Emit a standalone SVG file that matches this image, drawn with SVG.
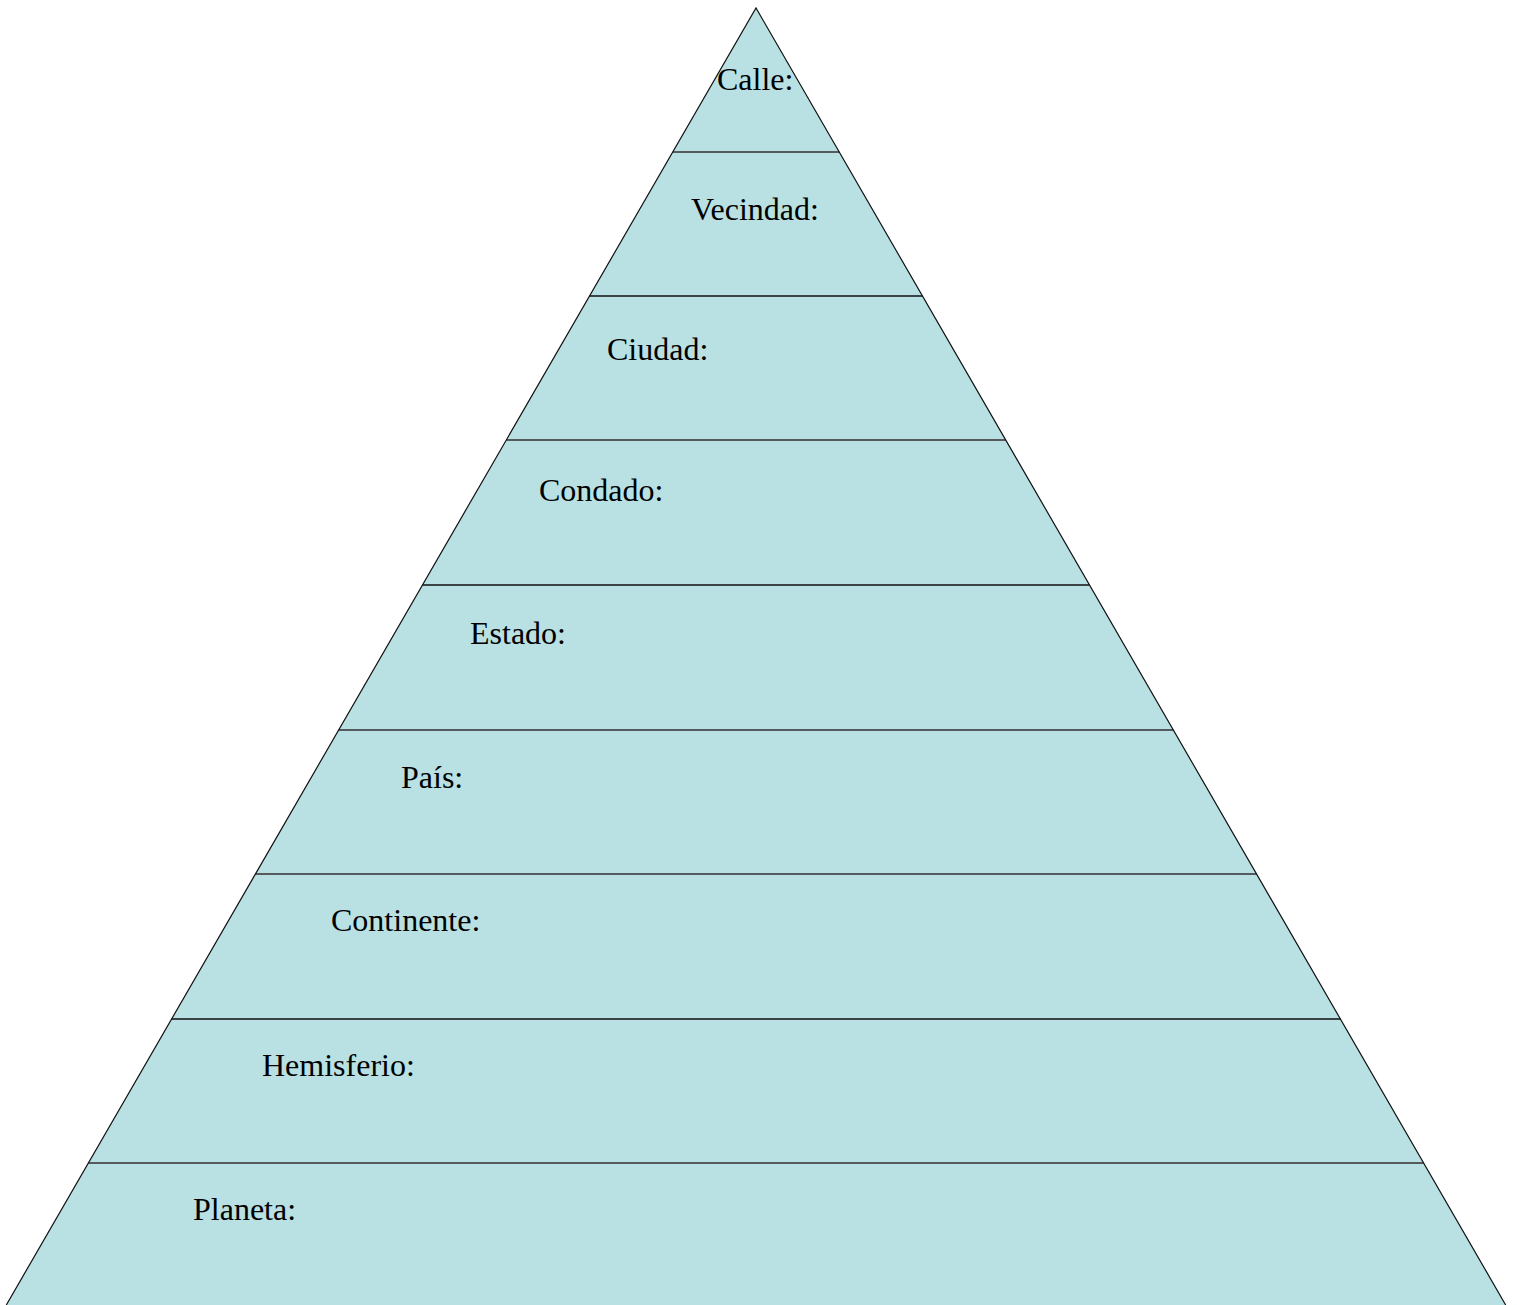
<svg xmlns="http://www.w3.org/2000/svg" width="1517" height="1305" viewBox="0 0 1517 1305">
<style>
.band{fill:#b9e0e3;stroke:none}
.lbl{font-family:"Liberation Serif","Times New Roman",serif;font-size:32px;fill:#000}
.sep{stroke:#555b5c;stroke-width:2}
.sepk{stroke:#111;stroke-width:1.6}
.edge{fill:none;stroke:#111;stroke-width:1.2}
</style>
<rect width="1517" height="1305" fill="#fff"/>
<g id="calle"><polygon class="band" points="756,8 839.2,152 672.8,152"/><text class="lbl" x="717" y="90">Calle:</text></g>
<g id="vecindad"><polygon class="band" points="672.8,152 839.2,152 922.5,296 589.5,296"/><text class="lbl" x="691" y="220">Vecindad:</text></g>
<g id="ciudad"><polygon class="band" points="589.5,296 922.5,296 1005.7,440 506.3,440"/><text class="lbl" x="607" y="360">Ciudad:</text></g>
<g id="condado"><polygon class="band" points="506.3,440 1005.7,440 1089.5,585 422.5,585"/><text class="lbl" x="539" y="501">Condado:</text></g>
<g id="estado"><polygon class="band" points="422.5,585 1089.5,585 1173.3,730 338.7,730"/><text class="lbl" x="470" y="644">Estado:</text></g>
<g id="pais"><polygon class="band" points="338.7,730 1173.3,730 1256.5,874 255.5,874"/><text class="lbl" x="401" y="788">País:</text></g>
<g id="continente"><polygon class="band" points="255.5,874 1256.5,874 1340.4,1019 171.6,1019"/><text class="lbl" x="331" y="931">Continente:</text></g>
<g id="hemisferio"><polygon class="band" points="171.6,1019 1340.4,1019 1423.6,1163 88.4,1163"/><text class="lbl" x="262" y="1076">Hemisferio:</text></g>
<g id="planeta"><polygon class="band" points="88.4,1163 1423.6,1163 1505.7,1305 6.3,1305"/><text class="lbl" x="193" y="1220">Planeta:</text></g>
<g id="connectors">
<line class="sep" x1="672.8" y1="152" x2="839.2" y2="152"/>
<line class="sepk" x1="589.5" y1="296" x2="922.5" y2="296"/>
<line class="sep" x1="506.3" y1="440" x2="1005.7" y2="440"/>
<line class="sepk" x1="422.5" y1="585" x2="1089.5" y2="585"/>
<line class="sep" x1="338.7" y1="730" x2="1173.3" y2="730"/>
<line class="sep" x1="255.5" y1="874" x2="1256.5" y2="874"/>
<line class="sepk" x1="171.6" y1="1019" x2="1340.4" y2="1019"/>
<line class="sep" x1="88.4" y1="1163" x2="1423.6" y2="1163"/>
<polyline class="edge" points="6.3,1305 756,8 1505.7,1305"/>
</g>
</svg>
